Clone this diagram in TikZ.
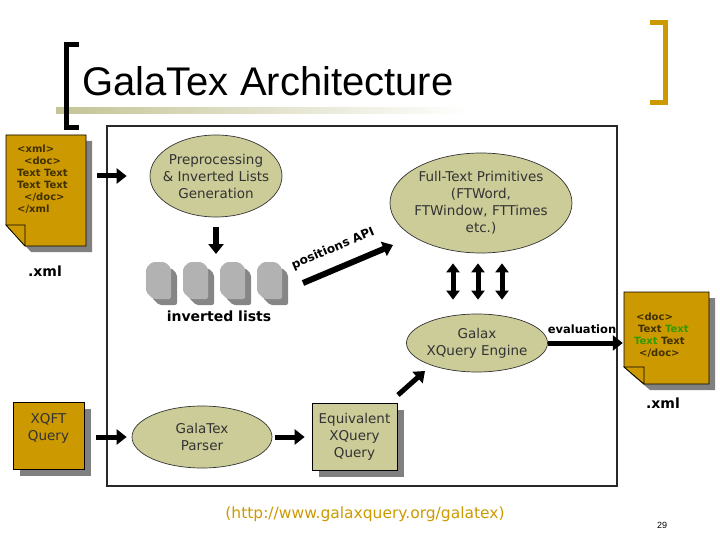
\documentclass[tikz,border=0pt]{standalone}
\usepackage{fontspec}
\setmainfont{DejaVu Sans}
\newfontfamily\titlefont{Liberation Sans}
\usetikzlibrary{shapes.geometric, arrows.meta, shadows}

\definecolor{docgold}{RGB}{204,153,0}
\definecolor{khaki}{RGB}{204,204,153}
\definecolor{shadowgray}{RGB}{128,128,128}
\definecolor{listlight}{RGB}{178,178,178}
\definecolor{listdark}{RGB}{134,134,134}
\definecolor{docink}{RGB}{64,48,0}
\definecolor{textgray}{RGB}{51,51,51}
\definecolor{taggreen}{RGB}{51,153,0}
\definecolor{bandolive}{RGB}{196,196,150}
\definecolor{framegray}{RGB}{40,40,40}

\begin{document}
\begin{tikzpicture}[x=1pt, y=-1pt,
  proc/.style={ellipse, draw=textgray, line width=0.7pt, fill=khaki, text=textgray, inner xsep=-12pt, inner ysep=-8pt, align=center, font=\fontsize{13.5}{17}\selectfont},
  querybox/.style={rectangle, draw=black, line width=0.7pt, text=textgray, inner sep=0pt, align=center, font=\fontsize{13.5}{17}\selectfont, drop shadow={shadow xshift=7pt, shadow yshift=-7pt, fill=shadowgray, opacity=1}},
  page/.style={fill=docgold, draw=black, line width=0.7pt},
  pagebox/.style={rectangle, inner sep=0pt},
  doctext/.style={anchor=west, inner sep=0pt, align=left, text=docink, font=\bfseries\fontsize{10}{12}\selectfont},
  boldnote/.style={font=\bfseries\fontsize{14}{16}\selectfont},
  fatarrow/.style={line width=5pt, -{Triangle[length=10pt, width=15pt]}},
  dblarrow/.style={line width=5pt, {Triangle[length=9pt, width=13pt]}-{Triangle[length=9pt, width=13pt]}}]

  \useasboundingbox (0,0) rectangle (720,540);

  % Title
  \shade[left color=bandolive, right color=white] (56,108) rectangle (470,114);
  \draw[line width=5pt] (79,44.5) -- (66.5,44.5) -- (66.5,127.5) -- (79,127.5);
  \draw[line width=5pt, docgold] (650,22.5) -- (665.5,22.5) -- (665.5,102.5) -- (650,102.5);
  \node[anchor=base west, inner sep=0pt, font=\titlefont\fontsize{40}{48}\selectfont] (title) at (82,96) {GalaTex Architecture};

  % Frame
  \draw[framegray, line width=2pt] (107,126) rectangle (617,486);

  % Input document
  \fill[shadowgray] (12,141) -- (92,141) -- (92,252) -- (31,252) -- (12,231) -- cycle;
  \draw[page] (6,135) -- (86,135) -- (86,246) -- (25,246) -- (6,225) -- cycle;
  \draw[page] (6,225) -- (25,225) -- (25,246) -- cycle;
  \node[pagebox, minimum width=80pt, minimum height=111pt] (docL) at (46,190.5) {};
  \node[doctext] (docLtext) at (17,179) {<xml>\\\hspace*{7pt}<doc>\\Text Text\\Text Text\\\hspace*{7pt}</doc>\\</xml};
  \node[boldnote] (xmlL) at (45,271) {.xml};

  % Result document
  \fill[shadowgray] (630,298) -- (715,298) -- (715,390) -- (650,390) -- (630,373) -- cycle;
  \draw[page] (624,292) -- (709,292) -- (709,384) -- (644,384) -- (624,367) -- cycle;
  \draw[page] (624,367) -- (644,367) -- (644,384) -- cycle;
  \node[pagebox, minimum width=85pt, minimum height=92pt] (docR) at (666.5,338) {};
  \node[doctext] (docRtext) at (634,335) {\hspace*{2pt}<doc>\\\hspace*{4pt}Text \textcolor{taggreen}{Text}\\\textcolor{taggreen}{Text} Text\\\hspace*{5pt}</doc>};
  \node[boldnote] (xmlR) at (663,403) {.xml};

  % Processing steps
  \node[proc, minimum width=132pt, minimum height=82pt] (prep) at (216,176) {Preprocessing\\\& Inverted Lists\\Generation};
  \node[proc, minimum width=182pt, minimum height=100pt] (fulltext) at (481,203) {Full-Text Primitives\\(FTWord,\\FTWindow, FTTimes\\etc.)};
  \node[proc, minimum width=141pt, minimum height=58pt] (galax) at (477,343) {Galax\\XQuery Engine};
  \node[proc, minimum width=140pt, minimum height=62pt] (parser) at (202,437) {GalaTex\\Parser};

  % Queries
  \node[querybox, fill=docgold, minimum width=71pt, minimum height=67pt] (xqft) at (48.5,435.5) {XQFT\\Query\\\mbox{}};
  \node[querybox, fill=khaki, minimum width=85pt, minimum height=67pt] (equiv) at (354.5,436.5) {Equivalent\\XQuery\\Query};

  % Inverted lists
  \fill[listdark, rounded corners=2pt] (158,268) -- (171,268) -- (177,274) -- (177,305) -- (159,305) -- (152,298) -- (152,274) -- cycle;
  \fill[listlight, rounded corners=2pt] (152,262) -- (165,262) -- (171,268) -- (171,299) -- (153,299) -- (146,292) -- (146,268) -- cycle;
  \fill[listdark, rounded corners=2pt] (195,268) -- (208,268) -- (214,274) -- (214,305) -- (196,305) -- (189,298) -- (189,274) -- cycle;
  \fill[listlight, rounded corners=2pt] (189,262) -- (202,262) -- (208,268) -- (208,299) -- (190,299) -- (183,292) -- (183,268) -- cycle;
  \fill[listdark, rounded corners=2pt] (232,268) -- (245,268) -- (251,274) -- (251,305) -- (233,305) -- (226,298) -- (226,274) -- cycle;
  \fill[listlight, rounded corners=2pt] (226,262) -- (239,262) -- (245,268) -- (245,299) -- (227,299) -- (220,292) -- (220,268) -- cycle;
  \fill[listdark, rounded corners=2pt] (269,268) -- (282,268) -- (288,274) -- (288,305) -- (270,305) -- (263,298) -- (263,274) -- cycle;
  \fill[listlight, rounded corners=2pt] (263,262) -- (276,262) -- (282,268) -- (282,299) -- (264,299) -- (257,292) -- (257,268) -- cycle;
  \node[boldnote] (lists) at (219,316) {inverted lists};

  % Free arrow ends
  \coordinate (listtop) at (216,254);
  \coordinate (apistart) at (303,283);
  \coordinate (apiend) at (393,245);
  \coordinate (eqout) at (398,395);
  \coordinate (gxin) at (425,371);

  % Horizontal arrows
  \draw[fatarrow, shorten <=11pt, shorten >=23pt] (docL.east |- prep.west) -- (prep.west);
  \draw[fatarrow, shorten <=12pt, shorten >=5pt] (xqft.east |- parser.west) -- (parser.west);
  \draw[fatarrow, shorten <=3pt, shorten >=7pt] (parser.east) -- (parser.east -| equiv.west);
  \draw[fatarrow, shorten >=1pt] (galax.east) -- (galax.east -| docR.west)
    node[pos=0.45, above=7pt, inner sep=0pt, font=\bfseries\fontsize{11.5}{13}\selectfont] {evaluation};

  % Vertical and diagonal arrows
  \draw[fatarrow, line width=6pt, shorten <=10pt] (prep.south) -- (listtop);
  \draw[fatarrow, line width=6pt] (apistart) -- (apiend)
    node[pos=0.42, sloped, above=11pt, inner sep=0pt, font=\bfseries\fontsize{12}{14}\selectfont] {positions API};
  \draw[fatarrow] (eqout) -- (gxin);
  \draw[dblarrow, shorten <=10pt, shorten >=14pt] ([xshift=-24pt]galax.north |- fulltext.south) -- ([xshift=-24pt]galax.north);
  \draw[dblarrow, shorten <=10pt, shorten >=14pt] ([xshift=1pt]galax.north |- fulltext.south) -- ([xshift=1pt]galax.north);
  \draw[dblarrow, shorten <=10pt, shorten >=14pt] ([xshift=25pt]galax.north |- fulltext.south) -- ([xshift=25pt]galax.north);

  % Footer
  \node[text=docgold, font=\fontsize{15.5}{18}\selectfont] (url) at (365,514) {(http://www.galaxquery.org/galatex)};
  \node[font=\titlefont\fontsize{9}{10}\selectfont] (pagenum) at (662,525) {29};

\end{tikzpicture}
\end{document}
